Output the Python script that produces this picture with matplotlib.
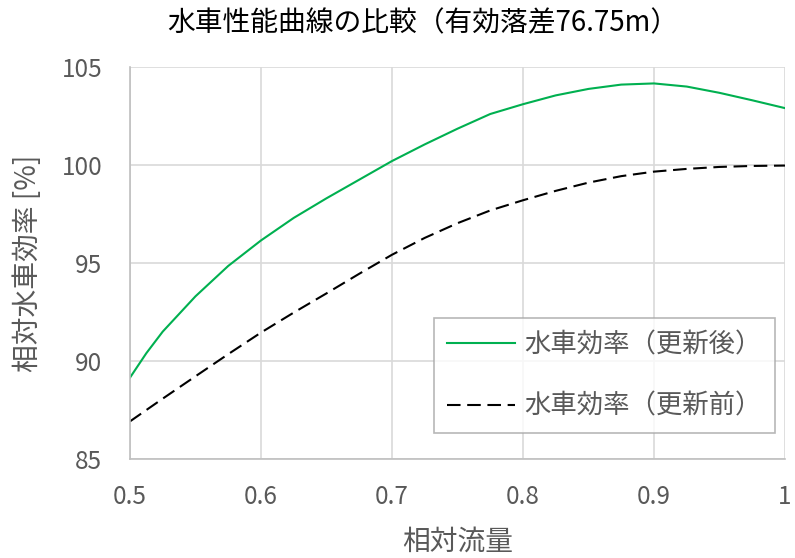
import matplotlib

matplotlib.use("Agg")
import matplotlib.pyplot as plt

plt.rcParams["font.family"] = ["Noto Sans CJK JP", "DejaVu Sans"]

# relative flow
flow = [0.5, 0.5125, 0.525, 0.55, 0.575, 0.6, 0.625, 0.65, 0.675, 0.7, 0.725, 0.75,
        0.775, 0.8, 0.825, 0.85, 0.875, 0.9, 0.925, 0.95, 0.975, 1.0]
# relative efficiency after update [%]
eff_after = [89.15, 90.4, 91.5, 93.3, 94.85, 96.15, 97.3, 98.3, 99.25, 100.2, 101.05, 101.85,
             102.6, 103.1, 103.55, 103.88, 104.1, 104.16, 104.0, 103.68, 103.3, 102.9]
# relative efficiency before update [%]
eff_before = [86.92, 87.5, 88.08, 89.22, 90.35, 91.45, 92.47, 93.45, 94.45, 95.42, 96.28, 97.03,
              97.68, 98.2, 98.68, 99.1, 99.43, 99.66, 99.8, 99.9, 99.95, 99.97]

title = "水車性能曲線の比較（有効落差76.75m）"
label_after = "水車効率（更新後）"
label_before = "水車効率（更新前）"

GRAY = "#595959"
GRID = "#D9D9D9"

fig = plt.figure(figsize=(7.95, 5.58), dpi=100)
ax = fig.add_axes([0.1635, 0.1774, 0.8239, 0.7026])

ax.plot(flow, eff_after, color="#00B050", lw=1.5, label=label_after)
ax.plot(flow, eff_before, color="black", lw=1.5, linestyle=(0, (6.5, 3.2)), label=label_before)

ax.set_xlim(0.5, 1.0)
ax.set_ylim(85, 105)
ax.set_xticks([0.5, 0.6, 0.7, 0.8, 0.9, 1.0])
ax.set_xticklabels(["0.5", "0.6", "0.7", "0.8", "0.9", "1"])
ax.set_yticks([85, 90, 95, 100, 105])
ax.grid(True, color=GRID, lw=1.2)
ax.set_axisbelow(True)
for side in ["top", "right"]:
    ax.spines[side].set_visible(False)
for side in ["left", "bottom"]:
    ax.spines[side].set_color("#BFBFBF")
    ax.spines[side].set_linewidth(1.2)
ax.tick_params(axis="x", length=0, labelsize=17.5, labelcolor=GRAY, pad=18)
ax.tick_params(axis="y", length=0, labelsize=17.5, labelcolor=GRAY, pad=20)

ax.set_xlabel("相対流量", fontsize=20, color=GRAY, labelpad=12)
ax.set_ylabel("相対水車効率 [%]", fontsize=20, color=GRAY, labelpad=13)
fig.text(0.532, 0.958, title, ha="center", va="center", fontsize=20, color="black")

leg = ax.legend(loc="lower right", bbox_to_anchor=(0.985, 0.066), borderaxespad=0,
                fontsize=19, frameon=True, fancybox=False, handlelength=2.6,
                labelspacing=1.3, borderpad=0.5, handletextpad=0.35)
leg.get_frame().set_edgecolor("#A6A6A6")
leg.get_frame().set_linewidth(1.2)
for t in leg.get_texts():
    t.set_color(GRAY)

fig.savefig("out.png", dpi=100)
